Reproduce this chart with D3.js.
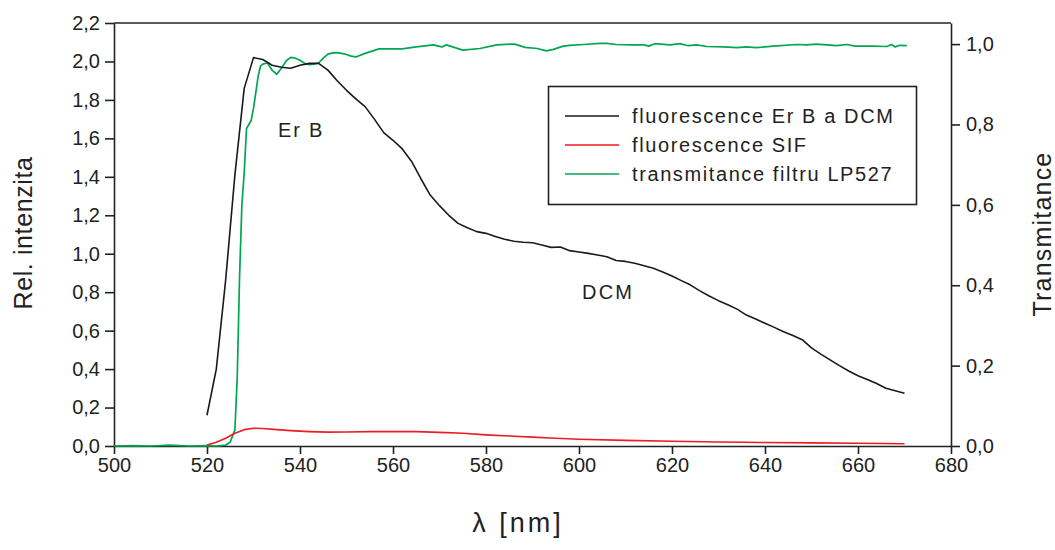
<!DOCTYPE html>
<html>
<head>
<meta charset="utf-8">
<script src="https://cdn.jsdelivr.net/npm/d3@7"></script>
<style>
  html, body { margin: 0; padding: 0; background: #fff; }
  svg { display: block; font-family: "Liberation Sans", Arial, sans-serif; }
</style>
</head>
<body>
<svg id="chart" width="1055" height="550"></svg>
<script>
// Wavelength grids (nm)
const wlFluor = d3.range(520, 671, 2);
// Fluorescence of Er B in DCM (relative intensity)
const fluorErB = [
  0.16, 0.40, 0.86, 1.41, 1.86, 2.02, 2.01, 1.98, 1.97, 1.965,
  1.98, 1.99, 1.99, 1.955, 1.90, 1.85, 1.805, 1.765, 1.70, 1.63,
  1.59, 1.545, 1.48, 1.39, 1.305, 1.25, 1.20, 1.158, 1.135, 1.115,
  1.106, 1.09, 1.075, 1.065, 1.06, 1.057, 1.045, 1.033, 1.035, 1.016,
  1.009, 1.002, 0.993, 0.984, 0.965, 0.96, 0.95, 0.937, 0.924, 0.905,
  0.884, 0.86, 0.837, 0.807, 0.78, 0.756, 0.735, 0.712, 0.681, 0.66,
  0.638, 0.617, 0.594, 0.575, 0.553, 0.51, 0.478, 0.448, 0.418, 0.39,
  0.365, 0.346, 0.325, 0.30, 0.287, 0.274
];

// Fluorescence SIF (relative intensity)
const wlSif = [520, 522, 524, 526, 528, 530, 532, 535, 538, 542, 546, 550, 555, 560, 565, 570, 575, 580, 585, 590, 595, 600, 610, 620, 630, 640, 650, 660, 670];
const fluorSif = [0.005, 0.02, 0.04, 0.066, 0.085, 0.092, 0.091, 0.085, 0.08, 0.075, 0.072, 0.073, 0.075, 0.075, 0.075, 0.071, 0.066, 0.058, 0.052, 0.046, 0.04, 0.035, 0.029, 0.025, 0.021, 0.018, 0.016, 0.014, 0.012];

// Transmittance of the LP527 filter
const wlFilter = [
  500, 504, 508, 512, 516, 520, 522, 524, 525, 526, 526.5, 527, 527.5, 528, 528.5,
  529, 529.5, 530, 530.5, 531, 531.5, 532, 533, 534, 535, 536, 537, 538, 539,
  540, 541, 542, 543, 544, 545, 546, 547, 548, 549, 550, 551, 552, 554, 557,
  560, 562, 565, 568.7, 570.5, 571.5, 575, 578.7, 582.3, 585.2, 586.2, 588.4, 591,
  593, 594.5, 596.6, 598, 601, 604.5, 606, 608, 611, 614, 615, 616.3, 619.6,
  621.7, 623.5, 625.3, 627.5, 631, 634, 636, 638.2, 641.8, 646.8, 649, 651,
  653.3, 655.4, 657.6, 659.4, 663.3, 666.2, 667.2, 668, 669, 670.5
];
const transFilter = [
  0.0, 0.001, 0.0, 0.002, 0.0, 0.001, 0.0, 0.002, 0.01, 0.04, 0.17, 0.42, 0.60, 0.68, 0.79,
  0.80, 0.81, 0.84, 0.88, 0.92, 0.945, 0.95, 0.953, 0.935, 0.925, 0.94, 0.958, 0.967, 0.965,
  0.96, 0.952, 0.949, 0.95, 0.953, 0.965, 0.975, 0.978, 0.979, 0.977, 0.974, 0.970, 0.968, 0.977, 0.988,
  0.988, 0.988, 0.993, 0.998, 0.993, 0.998, 0.985, 0.989, 0.998, 1.0, 1.0, 0.992, 0.989,
  0.983, 0.987, 0.995, 0.997, 0.999, 1.002, 1.002, 0.999, 0.998, 0.998, 0.995, 1.001, 0.998,
  1.001, 0.996, 0.998, 0.994, 0.993, 0.991, 0.993, 0.991, 0.995, 0.999, 0.998, 1.0,
  0.998, 0.996, 0.999, 0.995, 0.995, 0.994, 0.999, 0.993, 0.997, 0.996
];

// Axis ticks
const xTicks = d3.range(500, 681, 20);
const yLeftTicks = d3.range(0, 2.21, 0.2);
const yRightTicks = [0, 0.2, 0.4, 0.6, 0.8, 1.0];

// Legend entries
const legendLabels = ["fluorescence Er B a DCM", "fluorescence SIF", "transmitance filtru LP527"];
const colors = { erb: "#1a1a1a", sif: "#ec1c24", filter: "#00a651" };

const svg = d3.select("#chart");
const plot = { left: 114, right: 951, top: 23, bottom: 446 };

const x = d3.scaleLinear().domain([500, 680]).range([plot.left, plot.right]);
const yL = d3.scaleLinear().domain([0, 2.2]).range([plot.bottom, plot.top]);
const yR = d3.scaleLinear().domain([0, 1.0525]).range([plot.bottom, plot.top]);

const comma = v => d3.format(".1f")(v).replace(".", ",");
const axisColor = "#222";
const fontSize = 20;

function styleAxis(g) {
  g.selectAll("path, line").attr("stroke", axisColor).attr("stroke-width", 1.6);
  g.selectAll("text").attr("fill", "#222").style("font-size", fontSize + "px")
    .style("font-family", "'Liberation Sans', Arial, sans-serif");
}

// Bottom axis
svg.append("g")
  .attr("transform", `translate(0,${plot.bottom})`)
  .call(d3.axisBottom(x).tickValues(xTicks).tickSize(8).tickPadding(4).tickSizeOuter(0).tickFormat(d3.format("d")))
  .call(styleAxis);

// Top frame line
svg.append("line")
  .attr("x1", plot.left).attr("x2", plot.right)
  .attr("y1", plot.top).attr("y2", plot.top)
  .attr("stroke", axisColor).attr("stroke-width", 1.6);

// Left axis
svg.append("g")
  .attr("transform", `translate(${plot.left},0)`)
  .call(d3.axisLeft(yL).tickValues(yLeftTicks).tickSize(9).tickPadding(5).tickSizeOuter(0).tickFormat(comma))
  .call(styleAxis);

// Right axis
svg.append("g")
  .attr("transform", `translate(${plot.right},0)`)
  .call(d3.axisRight(yR).tickValues(yRightTicks).tickSize(9).tickPadding(6).tickSizeOuter(0).tickFormat(comma))
  .call(styleAxis);

// Series
const lineL = d3.line().x(d => x(d[0])).y(d => yL(d[1]));
const lineR = d3.line().x(d => x(d[0])).y(d => yR(d[1]));

svg.append("path")
  .datum(d3.zip(wlFilter, transFilter))
  .attr("d", lineR).attr("fill", "none")
  .attr("stroke", colors.filter).attr("stroke-width", 1.7).attr("stroke-linejoin", "round");

svg.append("path")
  .datum(d3.zip(wlSif, fluorSif))
  .attr("d", lineL).attr("fill", "none")
  .attr("stroke", colors.sif).attr("stroke-width", 1.6).attr("stroke-linejoin", "round");

svg.append("path")
  .datum(d3.zip(wlFluor, fluorErB))
  .attr("d", lineL).attr("fill", "none")
  .attr("stroke", colors.erb).attr("stroke-width", 1.6).attr("stroke-linejoin", "round");

// Annotations
svg.append("text").attr("x", 278).attr("y", 137).text("Er B")
  .attr("fill", "#222").style("font-size", "20px").style("letter-spacing", "1.8px");
svg.append("text").attr("x", 582).attr("y", 299).text("DCM")
  .attr("fill", "#222").style("font-size", "20px").style("letter-spacing", "2.2px");

// Legend
const legend = svg.append("g");
legend.append("rect")
  .attr("x", 548.5).attr("y", 86.5).attr("width", 368).attr("height", 118)
  .attr("fill", "#fff").attr("stroke", axisColor).attr("stroke-width", 1.6);
const legendColors = [colors.erb, colors.sif, colors.filter];
legendLabels.forEach((label, i) => {
  const yy = 116 + i * 29;
  legend.append("line").attr("x1", 565).attr("x2", 619).attr("y1", yy).attr("y2", yy)
    .attr("stroke", legendColors[i]).attr("stroke-width", 1.6);
  legend.append("text").attr("x", 632).attr("y", yy + 7).text(label)
    .attr("fill", "#222").style("font-size", "20px").style("letter-spacing", "1.6px");
});

// Axis titles
svg.append("text")
  .attr("transform", "translate(32,233) rotate(-90)")
  .attr("text-anchor", "middle").text("Rel. intenzita")
  .attr("fill", "#222").style("font-size", "25px").style("letter-spacing", "0.6px");
svg.append("text")
  .attr("transform", "translate(1051,234) rotate(-90)")
  .attr("text-anchor", "middle").text("Transmitance")
  .attr("fill", "#222").style("font-size", "25px").style("letter-spacing", "1.2px");
svg.append("text")
  .attr("x", 518).attr("y", 532)
  .attr("text-anchor", "middle").text("λ [nm]")
  .attr("fill", "#222").style("font-size", "27px").style("letter-spacing", "3px");
</script>
</body>
</html>
